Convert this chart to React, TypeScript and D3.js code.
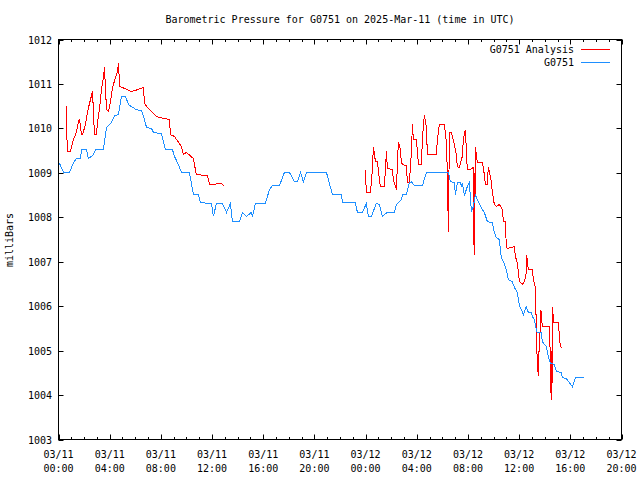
import React from "react";
import * as d3 from "d3";

// hours since 2025-03-11 00:00 UTC
const blueHours = [0.08,0.39,0.86,1.17,1.41,1.72,1.80,2.19,2.34,2.73,2.89,3.52,3.59,3.75,4.14,4.38,4.69,4.92,5.23,5.47,5.70,6.09,6.48,6.72,6.88,7.27,7.42,8.05,8.36,8.91,9.06,9.30,9.61,10.23,10.55,10.94,11.09,11.95,12.11,12.34,12.81,13.13,13.44,13.59,14.14,14.38,14.69,15.08,15.16,15.39,16.17,16.48,16.72,17.27,17.50,17.66,18.05,18.44,18.67,18.91,19.14,19.38,20.94,21.41,22.11,22.19,23.20,23.36,23.75,24.06,24.22,24.45,24.84,25.08,25.31,25.70,26.25,26.41,26.80,26.88,27.19,27.42,27.58,27.81,28.44,28.75,30.47,30.63,30.94,31.02,31.17,31.41,31.48,31.56,31.72,31.95,32.11,32.27,32.42,32.58,32.73,33.13,33.28,33.52,33.91,34.06,34.22,34.45,34.61,34.77,35.00,35.16,35.47,35.63,35.86,36.02,36.25,36.33,36.56,36.72,36.95,37.03,37.19,37.34,37.42,37.73,37.81,38.13,38.28,38.44,38.75,38.91,39.30,39.38,39.69,39.92,40.16,40.39,41.09];
const blueValues = [1009.21,1009.01,1009.01,1009.23,1009.32,1009.32,1009.52,1009.52,1009.32,1009.41,1009.52,1009.52,1009.70,1010.02,1010.13,1010.29,1010.31,1010.72,1010.72,1010.54,1010.49,1010.42,1010.40,1010.20,1010.02,1010.00,1009.91,1009.88,1009.52,1009.52,1009.37,1009.23,1009.01,1009.01,1008.51,1008.51,1008.33,1008.31,1008.02,1008.31,1008.31,1008.11,1008.31,1007.90,1007.90,1008.11,1008.02,1008.11,1008.02,1008.31,1008.31,1008.62,1008.71,1008.71,1008.89,1009.01,1009.01,1008.80,1008.80,1009.01,1008.80,1009.01,1009.01,1008.51,1008.51,1008.33,1008.33,1008.11,1008.11,1008.31,1008.02,1008.02,1008.31,1008.29,1008.02,1008.11,1008.11,1008.29,1008.40,1008.51,1008.51,1008.78,1008.80,1008.71,1008.71,1009.01,1009.01,1008.80,1008.78,1008.51,1008.78,1008.78,1008.69,1008.78,1008.49,1008.69,1008.78,1008.13,1008.24,1008.51,1008.40,1008.17,1008.11,1007.90,1007.88,1007.66,1007.54,1007.50,1007.09,1007.00,1006.82,1006.60,1006.55,1006.42,1006.31,1006.01,1005.88,1005.81,1005.99,1005.86,1005.86,1005.77,1005.70,1005.47,1005.41,1005.41,1005.20,1005.09,1004.87,1004.71,1004.69,1004.53,1004.51,1004.39,1004.37,1004.28,1004.19,1004.39,1004.39];

const redHours1 = [0.63,0.63,0.70,0.94,1.09,1.41,1.56,1.64,1.72,1.80,1.88,2.11,2.27,2.50,2.66,2.73,2.81,2.97,3.05,3.20,3.36,3.52,3.59,3.67,3.75,3.91,4.06,4.22,4.45,4.61,4.69,4.77,5.00,5.70,6.17,6.64,6.72,6.88,7.66,7.97,8.67,8.75,9.06,9.61,9.77,10.00,10.55,10.70,10.78,11.64,11.80,12.03,12.73,12.89,12.97];
const redValues1 = [1010.51,1010.02,1009.48,1009.48,1009.68,1009.93,1010.15,1010.22,1010.04,1009.86,1009.86,1010.09,1010.38,1010.65,1010.83,1010.36,1009.86,1009.86,1010.15,1010.42,1010.87,1011.17,1011.37,1010.92,1010.42,1010.38,1010.60,1010.92,1011.14,1011.28,1011.48,1010.94,1010.92,1010.83,1010.87,1010.92,1010.58,1010.49,1010.27,1010.24,1010.20,1009.86,1009.82,1009.59,1009.41,1009.46,1009.32,1009.07,1008.96,1008.94,1008.74,1008.74,1008.76,1008.71,1008.71];

const redHours2 = [23.98,24.06,24.38,24.53,24.61,24.77,24.92,25.08,25.16,25.47,25.63,25.70,26.09,26.17,26.41,26.48,26.56,26.72,26.80,26.88,27.19,27.27,27.42,27.58,27.66,27.73,27.97,28.13,28.36,28.44,28.59,28.75,28.83,29.53,29.61,29.77,30.16,30.31,30.39,30.47,30.55,30.70,30.94,31.09,31.17,31.33,31.56,31.64,31.80,31.88,31.95,32.19,32.42,32.48,32.50,32.52,32.58,32.66,32.73,33.13,33.28,33.36,33.52,33.59,33.75,33.83,33.91,34.06,34.22,34.45,34.69,34.77,34.92,35.00,35.08,35.63,35.70,35.86,36.02,36.25,36.41,36.56,36.59,36.72,37.03,37.11,37.27,37.30,37.34,37.42,37.50,37.58,37.66,37.70,37.81,38.36,38.44,38.50,38.52,38.55,38.59,38.63,38.67,39.06,39.22,39.38];
const redValues2 = [1009.07,1008.56,1008.56,1009.07,1009.59,1009.25,1009.25,1008.85,1008.69,1008.69,1009.48,1009.10,1009.07,1008.85,1008.62,1009.14,1009.70,1009.52,1009.23,1009.19,1009.16,1008.78,1008.78,1009.46,1010.09,1009.75,1009.75,1009.19,1009.19,1009.75,1010.31,1010.02,1009.41,1009.41,1009.75,1010.09,1010.09,1009.70,1009.01,1007.66,1009.91,1009.91,1009.64,1009.41,1009.14,1009.12,1009.37,1009.75,1009.97,1009.46,1009.07,1009.07,1009.12,1007.16,1009.00,1007.16,1009.59,1009.41,1009.23,1009.23,1008.96,1008.74,1008.74,1009.14,1008.92,1008.78,1008.56,1008.29,1008.24,1008.29,1008.17,1007.90,1007.90,1007.34,1007.30,1007.34,1007.12,1006.98,1006.55,1006.49,1006.55,1006.76,1007.16,1006.82,1006.82,1006.60,1006.42,1006.15,1005.41,1004.73,1004.42,1005.25,1005.47,1005.92,1005.54,1005.54,1004.87,1003.90,1005.00,1003.90,1004.64,1005.99,1005.63,1005.63,1005.09,1005.07];

const yTicks = [1003, 1004, 1005, 1006, 1007, 1008, 1009, 1010, 1011, 1012];
const xTickHours = [0, 4, 8, 12, 16, 20, 24, 28, 32, 36, 40, 44];
const xTickDates = ["03/11", "03/11", "03/11", "03/11", "03/11", "03/11", "03/12", "03/12", "03/12", "03/12", "03/12", "03/12"];
const xTickTimes = ["00:00", "04:00", "08:00", "12:00", "16:00", "20:00", "00:00", "04:00", "08:00", "12:00", "16:00", "20:00"];
const seriesNames = ["G0751 Analysis", "G0751"];
const seriesColors = ["#ff0000", "#1e8fff"];

const W = 640, H = 480;
const L = 58.5, R = 621.5, T = 39.5, B = 439.5;
const font = "'DejaVu Sans Mono', monospace";

export default function App() {
  const x = d3.scaleLinear().domain([0, 44]).range([L, R]);
  const y = d3.scaleLinear().domain([1003, 1012]).range([B, T]);
  const line = d3.line<[number, number]>().x(d => x(d[0])).y(d => y(d[1]));
  const blue = blueHours.map((h, i) => [h, blueValues[i]] as [number, number]);
  const red1 = redHours1.map((h, i) => [h, redValues1[i]] as [number, number]);
  const red2 = redHours2.map((h, i) => [h, redValues2[i]] as [number, number]);
  const minor = d3.range(0, 45, 1);

  return (
    <svg width={W} height={H} style={{ position: "absolute", left: 0, top: 0, background: "#fff" }} fontFamily={font} fontSize={10}>
      <rect x={0} y={0} width={W} height={H} fill="#fff" />
      <text x={340} y={23} textAnchor="middle" fill="#000">Barometric Pressure for G0751 on 2025-Mar-11 (time in UTC)</text>
      <text transform={`translate(13,240) rotate(-90)`} textAnchor="middle" fill="#000">milliBars</text>
      {yTicks.map(v => (
        <g key={v}>
          <line x1={L} x2={L + 5} y1={Math.round(y(v)) + 0.5} y2={Math.round(y(v)) + 0.5} stroke="#000" />
          <line x1={R} x2={R - 5} y1={Math.round(y(v)) + 0.5} y2={Math.round(y(v)) + 0.5} stroke="#000" />
          <text x={52} y={y(v) + 4} textAnchor="end" fill="#000">{v}</text>
        </g>
      ))}
      {minor.map(h => {
        const len = h % 4 === 0 ? 5 : 2.5;
        const px = Math.round(x(h)) + 0.5;
        return (
          <g key={h}>
            <line x1={px} x2={px} y1={B} y2={B - len} stroke="#000" />
            <line x1={px} x2={px} y1={T} y2={T + len} stroke="#000" />
          </g>
        );
      })}
      {xTickHours.map((h, i) => (
        <g key={h}>
          <text x={x(h)} y={458} textAnchor="middle" fill="#000">{xTickDates[i]}</text>
          <text x={x(h)} y={472} textAnchor="middle" fill="#000">{xTickTimes[i]}</text>
        </g>
      ))}
      <path d={line(red1) || ""} fill="none" stroke={seriesColors[0]} strokeWidth={1} shapeRendering="crispEdges" />
      <path d={line(red2) || ""} fill="none" stroke={seriesColors[0]} strokeWidth={1} shapeRendering="crispEdges" />
      <path d={line(blue) || ""} fill="none" stroke={seriesColors[1]} strokeWidth={1} shapeRendering="crispEdges" />
      <rect x={L} y={T} width={R - L} height={B - T} fill="none" stroke="#000" />
      {seriesNames.map((n, i) => (
        <g key={n}>
          <text x={574} y={53 + i * 13} textAnchor="end" fill="#000">{n}</text>
          <line x1={581} x2={610} y1={49.5 + i * 13} y2={49.5 + i * 13} stroke={seriesColors[i]} />
        </g>
      ))}
    </svg>
  );
}
